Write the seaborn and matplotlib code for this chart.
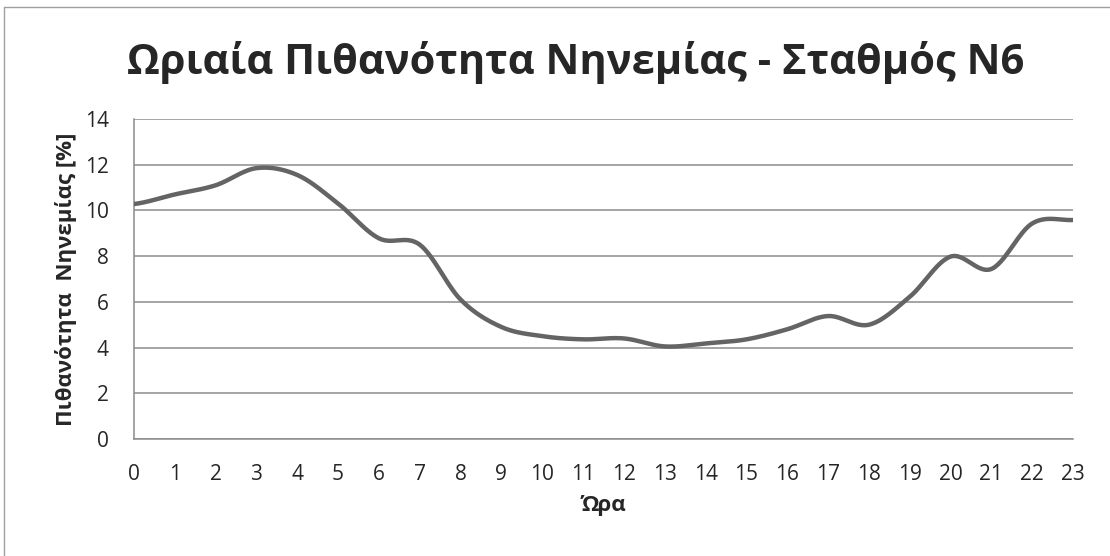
import numpy as np
import pandas as pd
import matplotlib
matplotlib.use("Agg")
import matplotlib.pyplot as plt
import seaborn as sns
from matplotlib.lines import Line2D

hours = list(range(24))
probability = [10.28, 10.7, 11.1, 11.85, 11.55, 10.3, 8.78, 8.5, 6.1, 4.9,
               4.5, 4.36, 4.4, 4.05, 4.18, 4.36, 4.8, 5.38, 5.0, 6.22,
               7.98, 7.44, 9.43, 9.58]
y_ticks = [0, 2, 4, 6, 8, 10, 12, 14]
title = "Ωριαία Πιθανότητα Νηνεμίας - Σταθμός Ν6"
xlabel = "Ώρα"
ylabel = "Πιθανότητα  Νηνεμίας [%]"

sns.set_style("white")
plt.rcParams['font.family'] = ['Open Sans', 'DejaVu Sans']


def smooth(xs, ys, n=30):
    # Catmull-Rom style smoothing as in spreadsheet "smoothed line"
    xs = np.asarray(xs, float); ys = np.asarray(ys, float)
    px = np.concatenate([[2 * xs[0] - xs[1]], xs, [2 * xs[-1] - xs[-2]]])
    py = np.concatenate([[ys[0]], ys, [ys[-1]]])
    ox, oy = [], []
    for i in range(1, len(px) - 2):
        p0, p1, p2, p3 = (np.array([px[j], py[j]]) for j in (i - 1, i, i + 1, i + 2))
        c1 = p1 + (p2 - p0) / 6
        c2 = p2 - (p3 - p1) / 6
        t = np.linspace(0, 1, n, endpoint=(i == len(px) - 3))[:, None]
        b = (1 - t) ** 3 * p1 + 3 * (1 - t) ** 2 * t * c1 + 3 * (1 - t) * t ** 2 * c2 + t ** 3 * p2
        ox.extend(b[:, 0]); oy.extend(b[:, 1])
    return np.array(ox), np.array(oy)


sx, sy = smooth(hours, probability)
df = pd.DataFrame({"x": sx, "y": sy})

fig = plt.figure(figsize=(11.1, 5.56), dpi=100)
ax = fig.add_axes([0.1207, 0.2104, 0.8460, 0.5756])
for t in y_ticks:
    ax.axhline(t, color="#8c8c8c", lw=1.1, zorder=1)
sns.lineplot(data=df, x="x", y="y", sort=False, ax=ax, color="#646464", lw=3.2,
             zorder=3)
ax.set_xlim(0, 23)
ax.set_ylim(0, 14)
ax.set_xticks(hours)
ax.set_xticklabels([str(h) for h in hours], fontsize=15)
ax.set_yticks(y_ticks)
ax.set_yticklabels([str(t) for t in y_ticks], fontsize=15)
ax.tick_params(axis="x", length=0, pad=18)
ax.tick_params(axis="y", length=0, pad=18)
for s in ["top", "right"]:
    ax.spines[s].set_visible(False)
for s in ["left", "bottom"]:
    ax.spines[s].set_color("#8c8c8c")
    ax.spines[s].set_linewidth(1.1)
ax.set_xlabel(xlabel, fontsize=16, fontweight="bold", va="center")
ax.xaxis.set_label_coords(0.5, (439 - 505) / 320)
ax.set_ylabel(ylabel, fontsize=16, fontweight="bold", labelpad=6)

fig.text(0.519, 0.888, title, fontsize=30, fontweight="bold", ha="center", va="center")

fig.add_artist(Line2D([4 / 1110, 4 / 1110], [0, 1 - 7 / 556], transform=fig.transFigure,
                      color="#a0a0a0", lw=1))
fig.add_artist(Line2D([4 / 1110, 1], [1 - 7 / 556, 1 - 7 / 556], transform=fig.transFigure,
                      color="#a0a0a0", lw=1))

fig.savefig("out.png", dpi=100, facecolor="white")
